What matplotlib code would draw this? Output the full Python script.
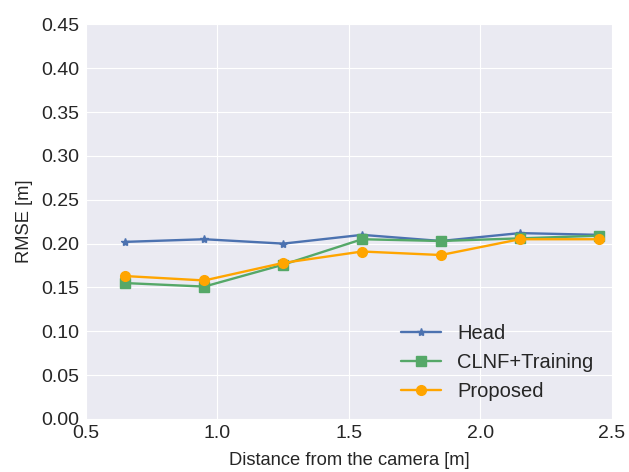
import numpy as np
import matplotlib.pyplot as plt
import seaborn as sns

sns.set_style("darkgrid")
plt.rcParams['font.family'] = ['Liberation Sans', 'DejaVu Sans']

# distance from camera [m]
dist = [0.65, 0.95, 1.25, 1.55, 1.85, 2.15, 2.45]

# RMSE [m]
rmse_head = [0.202, 0.205, 0.200, 0.210, 0.203, 0.212, 0.210]
rmse_clnf = [0.155, 0.151, 0.176, 0.205, 0.203, 0.206, 0.209]
rmse_prop = [0.163, 0.158, 0.178, 0.191, 0.187, 0.205, 0.205]

xticks = [0.5, 1.0, 1.5, 2.0, 2.5]
yticks = [0.0, 0.05, 0.10, 0.15, 0.20, 0.25, 0.30, 0.35, 0.40, 0.45]

fig = plt.figure(figsize=(6.29, 4.72), dpi=100)
ax = fig.add_axes([0.1367, 0.1123, 0.836, 0.836])

ax.plot(dist, rmse_head, '-*', color='#4C72B0', lw=1.7, ms=6, label='Head')
ax.plot(dist, rmse_clnf, '-s', color='#55A868', lw=1.7, ms=7, label='CLNF+Training')
ax.plot(dist, rmse_prop, '-o', color='orange', lw=1.7, ms=7, label='Proposed')

ax.set_xlim(0.5, 2.5)
ax.set_ylim(0.0, 0.45)
ax.set_xticks(xticks)
ax.set_yticks(yticks)
ax.set_xticklabels(['%.1f' % v for v in xticks])
ax.set_yticklabels(['%.2f' % v for v in yticks])
ax.tick_params(axis='both', labelsize=14, length=1.5, width=1, color='#555555', pad=3)
for s in ax.spines.values():
    s.set_visible(False)

ax.set_xlabel('Distance from the camera [m]', fontsize=13.2, labelpad=7)
ax.set_ylabel('RMSE [m]', fontsize=13.2, labelpad=6)
ax.legend(loc='lower right', fontsize=14.5, frameon=False, borderaxespad=0.5,
          bbox_to_anchor=(1.0, 0.0), handlelength=2.0, labelspacing=0.5)

fig.savefig('out.png', dpi=100)
